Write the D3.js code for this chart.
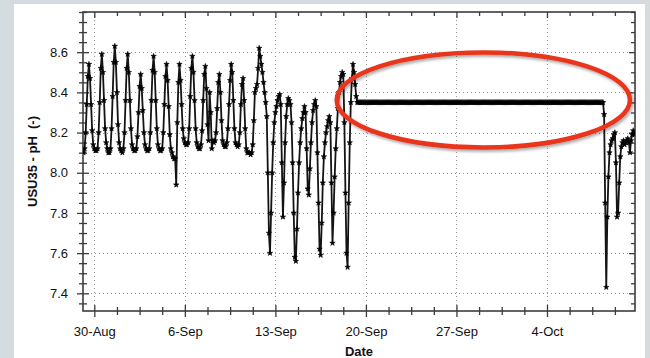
<!DOCTYPE html>
<html><head><meta charset="utf-8">
<script src="https://cdn.jsdelivr.net/npm/d3@7"></script>
<style>
html,body{margin:0;padding:0;background:#d5dcdf;}
svg{display:block;font-family:"Liberation Sans",Arial,sans-serif;}
</style></head><body>
<svg id="c" width="650" height="358"></svg>
<script>
// ---------- data (2-hourly readings) ----------
const readingHours = [0, 2, 4, 6, 8, 10, 12, 14, 16, 18, 20, 22];
const readingDays = [
  "2010-08-29","2010-08-30","2010-08-31","2010-09-01","2010-09-02","2010-09-03","2010-09-04",
  "2010-09-05","2010-09-06","2010-09-07","2010-09-08","2010-09-09","2010-09-10","2010-09-11",
  "2010-09-12","2010-09-13","2010-09-14","2010-09-15","2010-09-16","2010-09-17","2010-09-18",
  "2010-09-19","2010-09-20","2010-09-21","2010-09-22","2010-09-23","2010-09-24","2010-09-25",
  "2010-09-26","2010-09-27","2010-09-28","2010-09-29","2010-09-30","2010-10-01","2010-10-02",
  "2010-10-03","2010-10-04","2010-10-05","2010-10-06","2010-10-07","2010-10-08","2010-10-09",
  "2010-10-10"
];
const phReadings = [
  /* Aug 29 */ [null, null, 8.10, 8.12, 8.20, 8.34, 8.48, 8.54, 8.47, 8.34, 8.21, 8.14],
  /* Aug 30 */ [8.12, 8.11, 8.11, 8.12, 8.20, 8.35, 8.52, 8.59, 8.50, 8.36, 8.22, 8.15],
  /* Aug 31 */ [8.12, 8.10, 8.10, 8.12, 8.22, 8.38, 8.55, 8.63, 8.55, 8.40, 8.24, 8.15],
  /* Sep 01 */ [8.12, 8.11, 8.10, 8.12, 8.20, 8.36, 8.52, 8.59, 8.50, 8.36, 8.22, 8.14],
  /* Sep 02 */ [8.12, 8.11, 8.11, 8.12, 8.18, 8.30, 8.43, 8.49, 8.42, 8.31, 8.20, 8.14],
  /* Sep 03 */ [8.12, 8.11, 8.11, 8.12, 8.20, 8.36, 8.51, 8.58, 8.50, 8.36, 8.22, 8.14],
  /* Sep 04 */ [8.12, 8.11, 8.11, 8.12, 8.20, 8.34, 8.48, 8.54, 8.46, 8.33, 8.19, 8.12],
  /* Sep 05 */ [8.10, 8.08, 8.07, 8.07, 7.94, 8.25, 8.45, 8.54, 8.46, 8.34, 8.22, 8.17],
  /* Sep 06 */ [8.15, 8.14, 8.14, 8.15, 8.22, 8.38, 8.52, 8.58, 8.50, 8.36, 8.22, 8.15],
  /* Sep 07 */ [8.13, 8.12, 8.12, 8.14, 8.21, 8.36, 8.49, 8.53, 8.42, 8.24, 8.16, 8.40],
  /* Sep 08 */ [8.30, 8.12, 8.16, 8.15, 8.16, 8.20, 8.32, 8.45, 8.49, 8.40, 8.26, 8.16],
  /* Sep 09 */ [8.14, 8.13, 8.13, 8.15, 8.22, 8.34, 8.46, 8.54, 8.50, 8.36, 8.22, 8.15],
  /* Sep 10 */ [8.14, 8.13, 8.14, 8.20, 8.34, 8.44, 8.47, 8.36, 8.22, 8.12, 8.10, 8.10],
  /* Sep 11 */ [8.10, 8.09, 8.10, 8.14, 8.26, 8.40, 8.42, 8.44, 8.52, 8.62, 8.58, 8.54],
  /* Sep 12 */ [8.50, 8.45, 8.40, 8.35, 8.28, 8.00, 7.70, 7.60, 7.80, 8.00, 8.15, 8.25],
  /* Sep 13 */ [8.30, 8.33, 8.36, 8.38, 8.39, 8.34, 8.05, 7.78, 7.95, 8.15, 8.28, 8.34],
  /* Sep 14 */ [8.37, 8.36, 8.34, 8.25, 8.05, 7.80, 7.58, 7.56, 7.72, 7.90, 8.05, 8.15],
  /* Sep 15 */ [8.22, 8.27, 8.30, 8.33, 8.30, 8.12, 7.92, 7.89, 8.02, 8.15, 8.25, 8.31],
  /* Sep 16 */ [8.34, 8.36, 8.33, 8.10, 7.85, 7.62, 7.59, 7.75, 7.95, 8.08, 8.15, 8.20],
  /* Sep 17 */ [8.23, 8.26, 8.28, 8.25, 7.95, 7.65, 7.80, 7.98, 8.12, 8.22, 8.32, 8.40],
  /* Sep 18 */ [8.45, 8.48, 8.50, 8.49, 8.25, 7.90, 7.60, 7.53, 7.85, 8.15, 8.35, 8.47],
  /* Sep 19 */ [8.54, 8.50, 8.44, 8.38, 8.35, 8.35, 8.35, 8.35, 8.35, 8.35, 8.35, 8.35],
  /* Sep 20 */ [8.35, 8.35, 8.35, 8.35, 8.35, 8.35, 8.35, 8.35, 8.35, 8.35, 8.35, 8.35],
  /* Sep 21 */ [8.35, 8.35, 8.35, 8.35, 8.35, 8.35, 8.35, 8.35, 8.35, 8.35, 8.35, 8.35],
  /* Sep 22 */ [8.35, 8.35, 8.35, 8.35, 8.35, 8.35, 8.35, 8.35, 8.35, 8.35, 8.35, 8.35],
  /* Sep 23 */ [8.35, 8.35, 8.35, 8.35, 8.35, 8.35, 8.35, 8.35, 8.35, 8.35, 8.35, 8.35],
  /* Sep 24 */ [8.35, 8.35, 8.35, 8.35, 8.35, 8.35, 8.35, 8.35, 8.35, 8.35, 8.35, 8.35],
  /* Sep 25 */ [8.35, 8.35, 8.35, 8.35, 8.35, 8.35, 8.35, 8.35, 8.35, 8.35, 8.35, 8.35],
  /* Sep 26 */ [8.35, 8.35, 8.35, 8.35, 8.35, 8.35, 8.35, 8.35, 8.35, 8.35, 8.35, 8.35],
  /* Sep 27 */ [8.35, 8.35, 8.35, 8.35, 8.35, 8.35, 8.35, 8.35, 8.35, 8.35, 8.35, 8.35],
  /* Sep 28 */ [8.35, 8.35, 8.35, 8.35, 8.35, 8.35, 8.35, 8.35, 8.35, 8.35, 8.35, 8.35],
  /* Sep 29 */ [8.35, 8.35, 8.35, 8.35, 8.35, 8.35, 8.35, 8.35, 8.35, 8.35, 8.35, 8.35],
  /* Sep 30 */ [8.35, 8.35, 8.35, 8.35, 8.35, 8.35, 8.35, 8.35, 8.35, 8.35, 8.35, 8.35],
  /* Oct 01 */ [8.35, 8.35, 8.35, 8.35, 8.35, 8.35, 8.35, 8.35, 8.35, 8.35, 8.35, 8.35],
  /* Oct 02 */ [8.35, 8.35, 8.35, 8.35, 8.35, 8.35, 8.35, 8.35, 8.35, 8.35, 8.35, 8.35],
  /* Oct 03 */ [8.35, 8.35, 8.35, 8.35, 8.35, 8.35, 8.35, 8.35, 8.35, 8.35, 8.35, 8.35],
  /* Oct 04 */ [8.35, 8.35, 8.35, 8.35, 8.35, 8.35, 8.35, 8.35, 8.35, 8.35, 8.35, 8.35],
  /* Oct 05 */ [8.35, 8.35, 8.35, 8.35, 8.35, 8.35, 8.35, 8.35, 8.35, 8.35, 8.35, 8.35],
  /* Oct 06 */ [8.35, 8.35, 8.35, 8.35, 8.35, 8.35, 8.35, 8.35, 8.35, 8.35, 8.35, 8.35],
  /* Oct 07 */ [8.35, 8.35, 8.35, 8.35, 8.35, 8.35, 8.35, 8.35, 8.35, 8.35, 8.35, 8.35],
  /* Oct 08 */ [8.35, 8.35, 8.35, 8.35, 8.35, 8.29, 7.85, 7.43, 7.78, 7.98, 8.10, 8.14],
  /* Oct 09 */ [8.16, 8.17, 8.19, 8.20, 8.05, 7.78, 7.80, 7.95, 8.08, 8.13, 8.15, 8.16],
  /* Oct 10 */ [8.14, 8.15, 8.16, 8.17, 8.15, 8.10, 8.16, 8.19, 8.21, 8.19, null, null]
];
const xTickDates = ["2010-08-30","2010-09-06","2010-09-13","2010-09-20","2010-09-27","2010-10-04"];
const xMinorStepHours = 42;
const xDomain = ["2010-08-29 03:00", "2010-10-10 19:20"];
const yDomain = [7.312, 8.8];
const yTicks = [7.4, 7.6, 7.8, 8.0, 8.2, 8.4, 8.6];
const yMinorStep = 0.05;
const yLabel = "USU35 - pH  (-)";
const xLabel = "Date";
// highlighted (flat) period, in data units
const highlight = {from: "2010-09-17 17:45", to: "2010-10-10 10:00", phTop: 8.599, phBottom: 8.126};

// ---------- build ----------
const parseDay = d3.timeParse("%Y-%m-%d");
const parseDT = d3.timeParse("%Y-%m-%d %H:%M");
const points = [];
readingDays.forEach((day, i) => {
  const base = parseDay(day);
  (phReadings[i] || []).forEach((v, j) => {
    if (v == null) return;
    points.push({date: d3.timeHour.offset(base, readingHours[j]), ph: v});
  });
});

const svg = d3.select("#c");
const L = 83, R = 635, T = 12, B = 311;
const x = d3.scaleTime().domain(xDomain.map(parseDT)).range([L, R]);
const y = d3.scaleLinear().domain(yDomain).range([B, T]);

// background panel
svg.append("rect").attr("x", 0).attr("y", 0).attr("width", 650).attr("height", 358).attr("fill", "#d5dcdf");
svg.append("rect").attr("x", 14).attr("y", 4).attr("width", 631).attr("height", 354).attr("fill", "#ffffff");

const defs = svg.append("defs");
defs.append("clipPath").attr("id", "plotclip").append("rect")
  .attr("x", L).attr("y", T).attr("width", R - L).attr("height", B - T);
const f = defs.append("filter").attr("id", "shadow").attr("x", "-10%").attr("y", "-20%").attr("width", "120%").attr("height", "140%");
f.append("feDropShadow").attr("dx", 1.5).attr("dy", 2).attr("stdDeviation", 1.5)
  .attr("flood-color", "#000").attr("flood-opacity", 0.35);

// gridlines
const xMajor = xTickDates.map(parseDay);
const grid = svg.append("g").attr("stroke", "#9a9a9a").attr("stroke-width", 1).attr("stroke-dasharray", "1,3");
grid.selectAll(".gx").data(xMajor).join("line")
  .attr("x1", d => Math.round(x(d)) + 0.5).attr("x2", d => Math.round(x(d)) + 0.5)
  .attr("y1", T).attr("y2", B);
grid.selectAll(".gy").data(yTicks).join("line")
  .attr("y1", d => Math.round(y(d)) + 0.5).attr("y2", d => Math.round(y(d)) + 0.5)
  .attr("x1", L).attr("x2", R);

// minor ticks values
const xMinor = [];
for (let t = d3.timeHour.offset(xMajor[0], -xMinorStepHours * 4); t <= x.domain()[1]; t = d3.timeHour.offset(t, xMinorStepHours)) {
  if (t >= x.domain()[0] && !xMajor.some(m => +m === +t)) xMinor.push(t);
}
const yMinor = d3.range(Math.round(7.35 / yMinorStep), Math.round(8.8 / yMinorStep) + 1)
  .map(k => +(k * yMinorStep).toFixed(2))
  .filter(v => v >= yDomain[0] && v <= yDomain[1] && !yTicks.some(t => Math.abs(t - v) < 1e-6));

const axisColor = "#3c3c3c";
function styleAxis(g) {
  g.select(".domain").remove();
  g.selectAll("line").attr("stroke", axisColor).attr("stroke-width", 1.3);
  g.selectAll("text").attr("fill", "#111").attr("font-size", 13);
}
// left axis
const gl = svg.append("g").attr("transform", `translate(${L},0)`)
  .call(d3.axisLeft(y).tickValues(yTicks).tickSize(6).tickPadding(9).tickFormat(d3.format(".1f")));
styleAxis(gl); gl.selectAll(".tick line").attr("x1", 6);
const glm = svg.append("g").attr("transform", `translate(${L},0)`)
  .call(d3.axisLeft(y).tickValues(yMinor).tickSize(4).tickFormat(""));
styleAxis(glm); glm.selectAll(".tick line").attr("x1", 4);
// right axis (inward)
const gr = svg.append("g").attr("transform", `translate(${R},0)`)
  .call(d3.axisLeft(y).tickValues(yTicks).tickSize(6).tickFormat(""));
styleAxis(gr);
const grm = svg.append("g").attr("transform", `translate(${R},0)`)
  .call(d3.axisLeft(y).tickValues(yMinor).tickSize(4).tickFormat(""));
styleAxis(grm);
// bottom axis
const gb = svg.append("g").attr("transform", `translate(0,${B})`)
  .call(d3.axisBottom(x).tickValues(xMajor).tickSize(6).tickPadding(10).tickFormat(d3.timeFormat("%-d-%b")));
styleAxis(gb); gb.selectAll(".tick line").attr("y1", -6);
const gbm = svg.append("g").attr("transform", `translate(0,${B})`)
  .call(d3.axisBottom(x).tickValues(xMinor).tickSize(4).tickFormat(""));
styleAxis(gbm); gbm.selectAll(".tick line").attr("y1", -4);
// top axis (inward)
const gt = svg.append("g").attr("transform", `translate(0,${T})`)
  .call(d3.axisBottom(x).tickValues(xMajor).tickSize(6).tickFormat(""));
styleAxis(gt);
const gtm = svg.append("g").attr("transform", `translate(0,${T})`)
  .call(d3.axisBottom(x).tickValues(xMinor).tickSize(4).tickFormat(""));
styleAxis(gtm);

// frame
svg.append("rect").attr("x", L).attr("y", T).attr("width", R - L).attr("height", B - T)
  .attr("fill", "none").attr("stroke", axisColor).attr("stroke-width", 1.6);

// series
const plot = svg.append("g").attr("clip-path", "url(#plotclip)");
plot.append("path").datum(points)
  .attr("fill", "none").attr("stroke", "#141414").attr("stroke-width", 1.8)
  .attr("stroke-linejoin", "round")
  .attr("d", d3.line().x(d => x(d.date)).y(d => y(d.ph)));
const sym = d3.symbol().type(d3.symbolStar).size(9);
plot.selectAll(".pt").data(points).join("path")
  .attr("transform", d => `translate(${x(d.date)},${y(d.ph)})`)
  .attr("d", sym).attr("fill", "#000").attr("stroke", "#000").attr("stroke-width", 0.6);

// annotation ellipse
const ex1 = x(parseDT(highlight.from)), ex2 = x(parseDT(highlight.to));
const ey1 = y(highlight.phTop), ey2 = y(highlight.phBottom);
svg.append("ellipse")
  .attr("cx", (ex1 + ex2) / 2).attr("cy", (ey1 + ey2) / 2)
  .attr("rx", (ex2 - ex1) / 2).attr("ry", (ey2 - ey1) / 2)
  .attr("fill", "none").attr("stroke", "#e8341c").attr("stroke-width", 4.5)
  .attr("filter", "url(#shadow)");

// axis titles
svg.append("text").attr("transform", `translate(37,${(T + B) / 2}) rotate(-90)`)
  .attr("text-anchor", "middle").attr("font-size", 13).attr("font-weight", "bold")
  .attr("fill", "#111").attr("xml:space", "preserve").style("white-space", "pre").text(yLabel);
svg.append("text").attr("x", (L + R) / 2).attr("y", 356)
  .attr("text-anchor", "middle").attr("font-size", 13).attr("font-weight", "bold")
  .attr("fill", "#111").text(xLabel);
</script>
</body></html>
